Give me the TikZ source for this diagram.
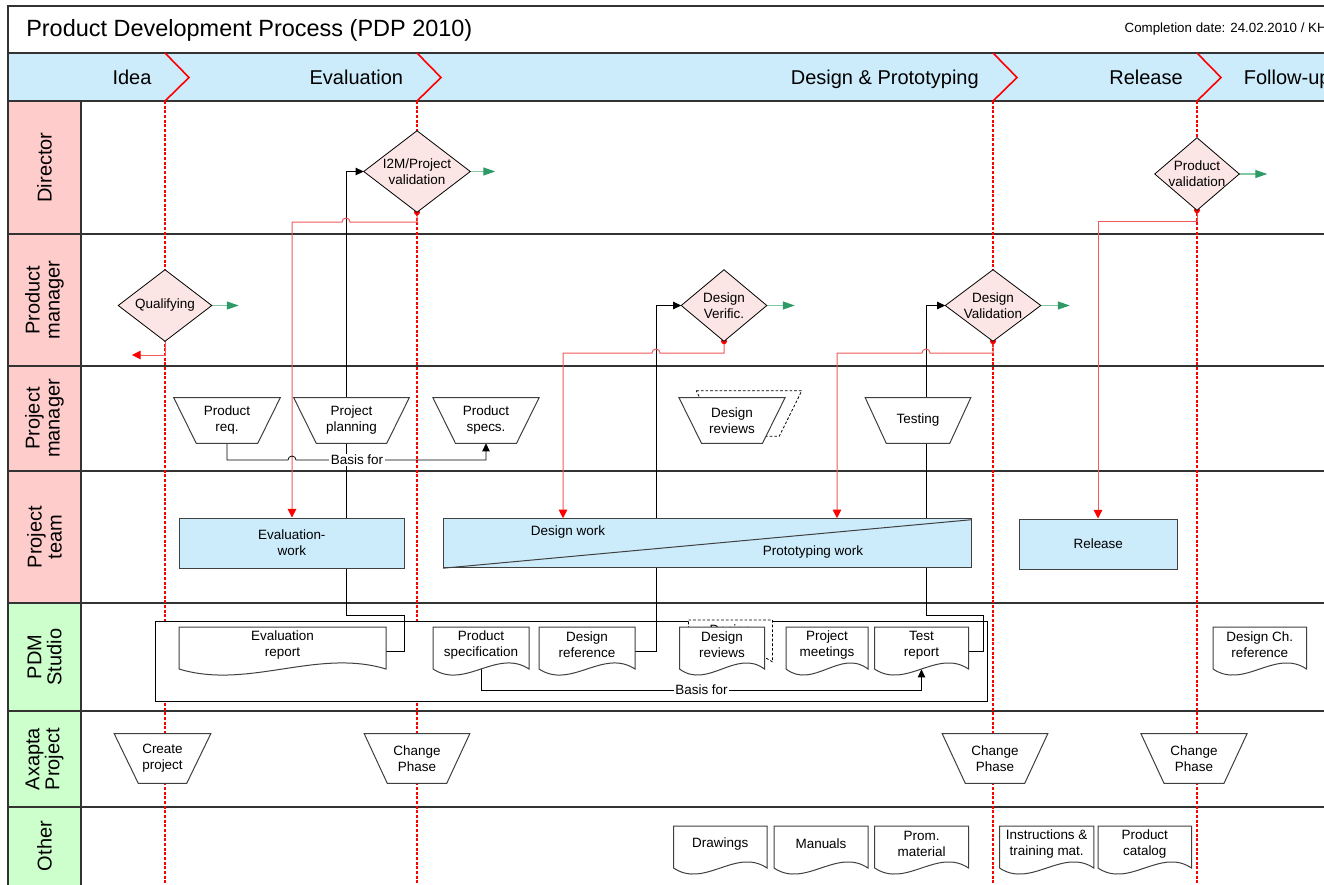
\documentclass[tikz,border=0pt]{standalone}
\usepackage{fontspec}
\setmainfont{Liberation Sans}
\usetikzlibrary{arrows.meta}
\pgfdeclarelayer{background}
\pgfdeclarelayer{dashl}
\pgfdeclarelayer{conn}
\pgfdeclarelayer{back}
\pgfdeclarelayer{shp}
\pgfsetlayers{background,dashl,conn,back,shp,main}
\definecolor{phaseblue}{RGB}{204,236,252}
\definecolor{lanepink}{RGB}{255,204,204}
\definecolor{lanegreen}{RGB}{204,255,204}
\definecolor{diapink}{RGB}{252,229,229}
\definecolor{gdark}{RGB}{46,155,103}
\definecolor{glight}{RGB}{130,200,160}
\definecolor{rline}{RGB}{240,90,90}
\definecolor{edgec}{RGB}{51,51,51}
\definecolor{sedge}{RGB}{64,64,64}
\tikzset{
  lanel/.style={draw=edgec, line width=1.5pt},
  phdiv/.style={draw=red, line width=1.2pt},
  vdash/.style={draw=red, line width=1.1pt, dash pattern=on 2.2pt off 1.3pt},
  smalltxt/.style={font=\fontsize{10.1}{12}\selectfont},
  txtbox/.style={rectangle, inner sep=0pt, draw=none, align=center, smalltxt},
  docn/.style={rectangle, inner sep=0pt, draw=none},
  diashape/.style={draw=black, line width=0.6pt, fill=diapink},
  tshape/.style={draw=sedge, line width=0.75pt, fill=white},
  docs/.style={draw=sedge, line width=0.75pt, fill=white},
  backdash/.style={draw=black, line width=0.6pt, fill=white, dash pattern=on 2pt off 1.5pt},
  wbox/.style={rectangle, draw=sedge, line width=0.75pt, fill=phaseblue, inner sep=0pt, align=center, smalltxt},
  blk/.style={draw=black, line width=0.6pt, -{Triangle[length=6pt,width=5.5pt]}},
  blkl/.style={draw=black, line width=0.6pt},
  rconn/.style={draw=rline, line width=0.75pt, -{Triangle[length=6.5pt,width=6.5pt,color=red]}},
  gar/.style={draw=glight, line width=0.9pt, -{Triangle[length=9pt,width=6pt,color=gdark]}},
  lanetxt/.style={rotate=90, align=center, inner sep=0pt, font=\fontsize{15}{15}\selectfont},
  phasetxt/.style={anchor=base east, inner sep=0pt, font=\fontsize{15}{18}\selectfont},
  basis/.style={fill=white, inner sep=1pt, smalltxt},
}
\newcommand\mkdia[6]{%
  \node[txtbox, minimum width={#4*0.75pt}, minimum height={#5*0.75pt}] (#1) at (#2,#3) {#6};
  \begin{pgfonlayer}{shp}
    \path[diashape] (#1.west) -- (#1.north) -- (#1.east) -- (#1.south) -- cycle;
  \end{pgfonlayer}}
\newcommand\mktrap[7]{%
  \node[txtbox, minimum width={#4*0.75pt}, minimum height={#5*0.75pt}] (#1) at (#2,#3) {#7};
  \begin{pgfonlayer}{shp}
    \path[tshape] (#1.north west) -- (#1.north east) -- ([shift={(-#6,0)}]#1.south east) -- ([shift={(#6,0)}]#1.south west) -- cycle;
  \end{pgfonlayer}}
\newcommand\mkdoc[6]{%
  \pgfmathsetmacro\dkCx{(#2+#3)/2}%
  \pgfmathsetmacro\dkCy{(#4+#5+6)/2}%
  \pgfmathsetmacro\dkTy{(#4+#5)/2-3}%
  \pgfmathsetmacro\dkW{(#3-#2)*0.75}%
  \pgfmathsetmacro\dkH{(#5+6-#4)*0.75}%
  \pgfmathsetmacro\dkCa{#2+(#3-#2)/3}%
  \pgfmathsetmacro\dkCb{#2+2*(#3-#2)/3}%
  \pgfmathsetmacro\dkCu{#5-21}%
  \pgfmathsetmacro\dkCd{#5+21}%
  \begin{pgfonlayer}{shp}
    \path[docs] (#2,#4) -- (#3,#4) -- (#3,#5) .. controls (\dkCb,\dkCu) and (\dkCa,\dkCd) .. (#2,#5) -- cycle;
  \end{pgfonlayer}
  \node[docn, minimum width=\dkW pt, minimum height=\dkH pt] (#1) at (\dkCx,\dkCy) {};
  \node[txtbox] (#1-t) at (\dkCx,\dkTy) {#6};}
\begin{document}
\begin{tikzpicture}[x=0.75pt,y=-0.75pt]
\useasboundingbox (0,0) rectangle (1324,885);
% ---------- background: lanes ----------
\begin{pgfonlayer}{background}
  \fill[white] (0,0) rectangle (1324,885);
  \fill[phaseblue] (8,53) rectangle (1330,101);
  \fill[lanepink] (8,101) rectangle (81,603);
  \fill[lanegreen] (8,603) rectangle (81,890);
  \draw[lanel] (8,890) -- (8,6) -- (1330,6);
  \foreach \yy in {53,101,234,366,471,603,711,807} \draw[lanel] (8,\yy) -- (1330,\yy);
  \draw[lanel] (81,101) -- (81,890);
  \foreach \xx in {165,417,993,1197} \draw[phdiv] (\xx,53) -- (\xx+24,77.5) -- (\xx,101);
\end{pgfonlayer}
\begin{pgfonlayer}{dashl}
  \foreach \xx in {165,417,993,1197} \draw[vdash] (\xx,101) -- (\xx,890);
\end{pgfonlayer}
% ---------- texts of header and lanes ----------
\node[anchor=base west, inner sep=0pt, font=\fontsize{17.6}{20}\selectfont] (title) at (26,36.7) {Product Development Process (PDP 2010)};
\node[anchor=base east, inner sep=0pt, font=\fontsize{10}{12}\selectfont] (date) at (1327,32.5) {Completion date: 24.02.2010 / KH};
\node[phasetxt] (p1) at (151.7,84.5) {Idea};
\node[phasetxt] (p2) at (403.3,84.5) {Evaluation};
\node[phasetxt] (p3) at (979,84.5) {Design \& Prototyping};
\node[phasetxt] (p4) at (1183,84.5) {Release};
\node[phasetxt, anchor=base west] (p5) at (1243.6,84.5) {Follow-up};
\node[lanetxt] (l1) at (44.5,167.5) {Director};
\node[lanetxt] (l2) at (44.5,300) {Product\\manager};
\node[lanetxt] (l3) at (44.5,418.5) {Project\\manager};
\node[lanetxt] (l4) at (44.5,537) {Project\\team};
\node[lanetxt] (l5) at (44.5,657) {PDM\\Studio};
\node[lanetxt] (l6) at (44.5,759) {Axapta\\Project};
\node[lanetxt] (l7) at (44.5,846) {Other};
% ---------- diamonds ----------
\mkdia{q}{165}{305.5}{93}{71}{Qualifying}
\mkdia{i2m}{417}{171.5}{106}{81}{I2M/Project\\validation}
\mkdia{dv}{724}{305.5}{85}{71}{Design\\Verific.}
\mkdia{dval}{993}{305.5}{95}{71}{Design\\Validation}
\mkdia{pv}{1197}{174}{84}{72}{Product\\validation}
% ---------- trapezoids ----------
\begin{pgfonlayer}{back}
  \node[docn, minimum width={105*0.75pt}, minimum height={45*0.75pt}] (drevb) at (749,413.5) {};
  \path[backdash] (drevb.north west) -- (drevb.north east) -- ([shift={(-22.5,0)}]drevb.south east) -- ([shift={(22.5,0)}]drevb.south west) -- cycle;
\end{pgfonlayer}
\mktrap{preq}{227}{420.5}{106}{45}{22.5}{Product\\req.}
\mktrap{pplan}{351.5}{420.5}{115}{45}{22.5}{Project\\planning}
\mktrap{pspec}{486}{420.5}{105.6}{45}{22.5}{Product\\specs.}
\mktrap{drev}{732}{420.5}{105.5}{45}{22.5}{Design\\reviews}
\mktrap{test}{918}{420.5}{105}{45}{21}{Testing}
\mktrap{cproj}{162.5}{758.5}{96}{49}{24}{Create\\project}
\mktrap{ch1}{417}{758.5}{105}{49}{23}{Change\\Phase}
\mktrap{ch2}{995}{758.5}{105}{49}{23}{Change\\Phase}
\mktrap{ch3}{1194}{758.5}{105.5}{49}{23}{Change\\Phase}
% ---------- work boxes ----------
\node[wbox, minimum width={225.6*0.75pt}, minimum height={50*0.75pt}] (ew) at (291.8,543) {Evaluation-\\work};
\node[wbox, minimum width={527.5*0.75pt}, minimum height={49*0.75pt}] (dp) at (707.25,543.2) {};
\draw[draw=sedge, line width=0.75pt] (dp.south west) -- ([shift={(0,1.5)}]dp.north east);
\node[txtbox] (dpt1) at (568,532) {Design work};
\node[txtbox] (dpt2) at (813,552) {Prototyping work};
\node[wbox, minimum width={158.5*0.75pt}, minimum height={50*0.75pt}] (rel) at (1098.25,544) {Release};
% ---------- documents ----------
\begin{pgfonlayer}{back}
  \path[backdash] (688.5,620) -- (772.5,620) -- (772.5,662) .. controls (744.5,641) and (716.5,683) .. (688.5,662) -- cycle;
  \node[txtbox] (drdb) at (730.5,638) {Design\\reviews};
\end{pgfonlayer}
\mkdoc{er}{179}{386}{627}{669}{Evaluation\\report}
\mkdoc{ps}{433}{529}{627}{669}{Product\\specification}
\mkdoc{dref}{539}{635}{627}{669}{Design\\reference}
\mkdoc{drd}{679.5}{764.5}{627}{669}{Design\\reviews}
\mkdoc{pmt}{786}{868}{627}{669}{Project\\meetings}
\mkdoc{tr}{874.5}{968.5}{627}{669}{Test\\report}
\mkdoc{dch}{1213}{1306.5}{627}{669}{Design Ch.\\reference}
\mkdoc{drw}{673.6}{767}{826}{868}{Drawings}
\mkdoc{man}{774}{868}{826}{868}{Manuals}
\mkdoc{prom}{874.7}{968.5}{826}{868}{Prom.\\material}
\mkdoc{ins}{999.5}{1093.8}{826}{868}{Instructions \&\\training mat.}
\mkdoc{cat}{1098}{1191.5}{826}{868}{Product\\catalog}
% ---------- connectors ----------
\begin{pgfonlayer}{conn}
  \node[rectangle, draw=black, line width=0.6pt, fill=white, inner sep=0pt, minimum width={832.5*0.75pt}, minimum height={80*0.75pt}] (pdm) at (571.25,661) {};
  % black flows into decisions
  \draw[blk] (er.east) -- (404,651) -- (404,615) -- (346,615) -- (346,0 |- i2m.west) -- (i2m.west);
  \draw[blk] (dref.east) -- (656,651) -- (656,0 |- dv.west) -- (dv.west);
  \draw[blk] (tr.east) -- (983.5,651) -- (983.5,615) -- (926,615) -- (926,0 |- dval.west) -- (dval.west);
  % red flows out of decisions
  \draw[rconn] (i2m.south) -- (417,222) -- (350,222) arc[start angle=0,end angle=-180,radius=4] -- (292,222) -- (292,0 |- ew.north);
  \draw[rconn] (dv.south) -- (724,353) -- (660,353) arc[start angle=0,end angle=-180,radius=4] -- (563,353) -- (563,0 |- dp.north);
  \draw[rconn] (dval.south) -- (993,353) -- (930,353) arc[start angle=0,end angle=-180,radius=4] -- (837,353) -- (837,0 |- dp.north);
  \draw[rconn] (pv.south) -- (1197,221) -- (1098,221) -- (1098,0 |- rel.north);
  \draw[rconn] (q.south) -- (165,355) -- (132,355);
  \fill[red] (i2m.south) circle[radius=3];
  \fill[red] (dv.south) circle[radius=3];
  \fill[red] (dval.south) circle[radius=3];
  \fill[red] (pv.south) circle[radius=3];
  % basis for
  \draw[blk] (preq.south) -- (227,460) -- (288,460) arc[start angle=180,end angle=360,radius=4] -- (486,460) -- (pspec.south);
  \draw[blk] ([shift={(0,-6)}]ps.south) -- (481,690) -- (921.5,690) -- ([shift={(0,-6)}]tr.south);
  % green outgoing arrows
  \draw[gar] (q.east) -- ++(27,0);
  \draw[gar] (i2m.east) -- ++(25,0);
  \draw[gar] (dv.east) -- ++(28,0);
  \draw[gar] (dval.east) -- ++(29,0);
  \draw[gar] (pv.east) -- ++(28,0);
\end{pgfonlayer}
\node[basis] (b1) at (357,460) {Basis for};
\node[basis] (b2) at (701.5,690) {Basis for};
\end{tikzpicture}
\end{document}
